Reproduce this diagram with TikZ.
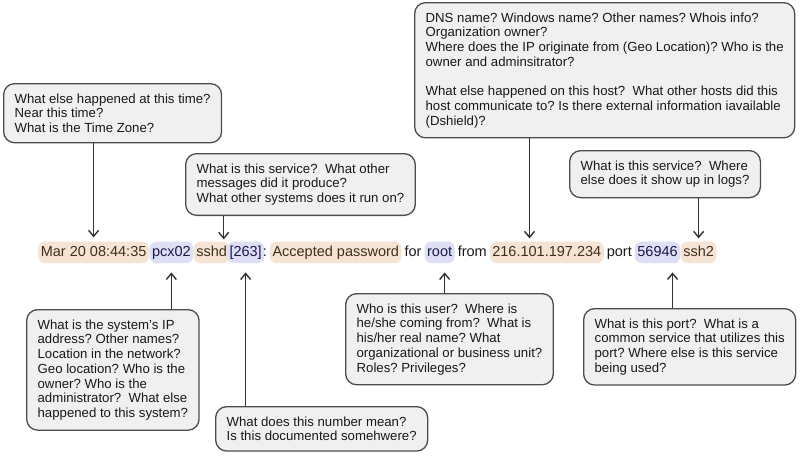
\documentclass[tikz,border=0pt]{standalone}
\usepackage{fontspec}
\setmainfont{Liberation Sans}
\usetikzlibrary{positioning,calc,arrows.meta}
\definecolor{BoxClr}{rgb}{0.94,0.94,0.94}
\definecolor{LineClr}{rgb}{0.30,0.30,0.30}
\definecolor{PeachClr}{rgb}{0.96,0.89,0.83}
\definecolor{LilacClr}{rgb}{0.87,0.87,0.96}
\definecolor{BrownTxt}{rgb}{0.25,0.18,0.12}
\definecolor{NavyTxt}{rgb}{0.10,0.10,0.30}
\newcommand{\logfont}{\fontsize{14.5}{17}\selectfont}
\newcommand{\qfont}{\fontsize{13.2}{14.7}\selectfont\frenchspacing}

\begin{document}
\begin{tikzpicture}[x=1pt,y=-1pt,
  tok/.style={inner xsep=2.6pt,inner ysep=3.9pt,text height=10.5pt,text depth=3.3pt,font=\logfont,text=black!90},
  hlpeach/.style={tok,fill=PeachClr,rounded corners=7pt,text=BrownTxt},
  hllilac/.style={tok,fill=LilacClr,rounded corners=7pt,text=NavyTxt},
  qbox/.style={draw=LineClr,fill=BoxClr,line width=1.3pt,rounded corners=11pt,inner xsep=11pt,inner ysep=10pt,align=left,font=\qfont,text=black!90},
  arr/.style={-{Straight Barb[length=6pt,width=10pt]},line width=1.4pt,draw=black!80}]
\useasboundingbox (0,0) rectangle (800,463);

% the log line
\node[hlpeach,anchor=base west] (t1) at (38,256) {Mar 20 08:44:35};
\node[hllilac,base right=0pt of t1] (t2) {pcx02};
\node[hlpeach,base right=0pt of t2] (t3) {sshd};
\node[hllilac,base right=-3pt of t3] (t4) {[263]};
\node[tok,base right=-4.5pt of t4] (colon) {:};
\node[hlpeach,base right=0pt of colon] (acc) {Accepted password};
\node[tok,base right=0pt of acc] (for) {for};
\node[hllilac,base right=0pt of for] (root) {root};
\node[tok,base right=0pt of root] (from) {from};
\node[hlpeach,base right=0pt of from] (ip) {216.101.197.234};
\node[tok,base right=0pt of ip] (port) {port};
\node[hllilac,base right=0pt of port] (pnum) {56946};
\node[hlpeach,base right=0pt of pnum] (ssh) {ssh2};

% questions above
\node[qbox,anchor=north west] (time) at (3,83) {What else happened at this time?\\Near this time?\\What is the Time Zone?};
\node[qbox,anchor=north west] (svc) at (185,153) {What is this service?~ What other\\messages did it produce?\\What other systems does it run on?};
\node[qbox,anchor=north west] (dns) at (414,2) {DNS name? Windows name? Other names? Whois info?\\Organization owner?\\Where does the IP originate from (Geo Location)? Who is the\\owner and adminsitrator?\\[14.7pt]What else happened on this host?~ What other hosts did this\\host communicate to? Is there external information iavailable\\(Dshield)?};
\node[qbox,anchor=north west] (svc2) at (569,150) {What is this service?~ Where\\else does it show up in logs?};

% questions below
\node[qbox,anchor=north west] (sys) at (26,309) {What is the system's IP\\address? Other names?\\Location in the network?\\Geo location? Who is the\\owner? Who is the\\administrator?~ What else\\happened to this system?};
\node[qbox,anchor=north west] (num) at (215,406) {What does this number mean?\\Is this documented somehwere?};
\node[qbox,anchor=north west] (user) at (345,293) {Who is this user?~ Where is\\he/she coming from?~ What is\\his/her real name? What\\organizational or business unit?\\Roles? Privileges?};
\node[qbox,anchor=north west] (portq) at (583,308) {What is this port?~ What is a\\common service that utilizes this\\port? Where else is this service\\being used?};

\draw[arr,shorten >=4pt] (t1.north |- time.south) -- (t1.north);
\draw[arr,shorten >=2pt] ([xshift=-6pt]t3.north east |- svc.south) -- ([xshift=-6pt]t3.north east);
\draw[arr,shorten >=3pt] ([xshift=40pt]ip.north west |- dns.south) -- ([xshift=40pt]ip.north west);
\draw[arr,shorten >=3pt] (ssh.north |- svc2.south) -- (ssh.north);

\draw[arr,shorten >=9pt] (t2.south |- sys.north) -- (t2.south);
\draw[arr,shorten >=9pt] (t4.south |- num.north) -- (t4.south);
\draw[arr,shorten >=9pt] ([xshift=5pt]root.south |- user.north) -- ([xshift=5pt]root.south);
\draw[arr,shorten >=9pt] ([xshift=15pt]pnum.south |- portq.north) -- ([xshift=15pt]pnum.south);

\end{tikzpicture}
\end{document}
